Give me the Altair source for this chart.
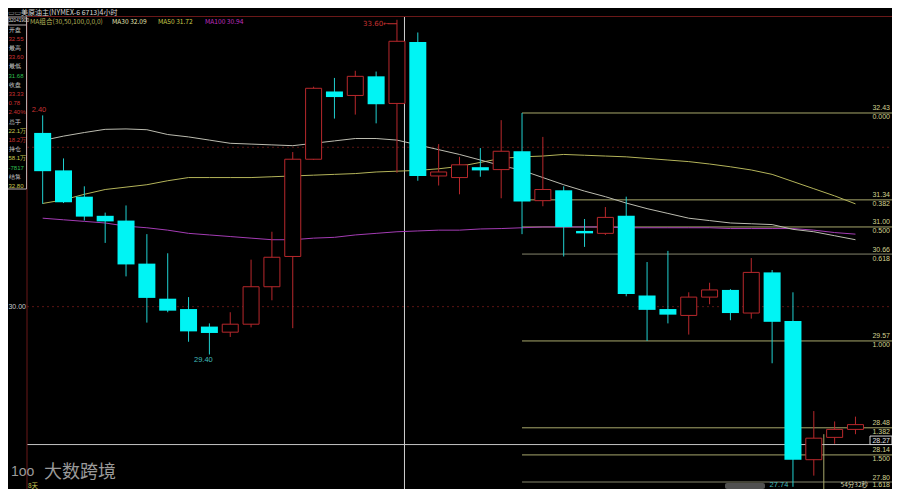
import altair as alt
import pandas as pd

# ---------------- data ----------------
bars = list(range(1, 41))
opens = [32.18, 31.71, 31.38, 31.14, 31.08, 30.54, 30.10, 29.97, 29.75, 29.68,
         29.78, 30.25, 30.63, 31.85, 32.70, 32.65, 32.89, 32.55, 33.32, 31.64,
         31.62, 31.75, 31.72, 31.95, 31.33, 31.46, 30.95, 30.92, 31.14, 30.14,
         29.97, 29.89, 30.12, 30.21, 29.92, 30.43, 29.82, 28.08, 28.36, 28.46]
highs = [32.40, 31.86, 31.51, 31.18, 31.27, 30.91, 30.67, 30.12, 29.79, 29.93,
         30.59, 30.94, 31.94, 32.76, 32.87, 32.96, 32.95, 33.60, 33.44, 32.04,
         31.88, 31.99, 32.34, 32.43, 32.13, 31.51, 31.10, 31.25, 31.38, 30.56,
         30.70, 30.18, 30.30, 30.22, 30.61, 30.46, 30.18, 28.69, 28.56, 28.62]
lows = [31.29, 31.30, 31.08, 30.80, 30.38, 29.80, 29.93, 29.56, 29.40, 29.62,
        29.74, 30.08, 29.73, 31.84, 32.36, 32.41, 32.30, 31.68, 31.58, 31.52,
        31.41, 31.63, 31.36, 30.91, 31.26, 30.63, 30.75, 30.90, 30.13, 29.57,
        29.79, 29.65, 30.03, 29.83, 29.85, 29.29, 27.74, 27.88, 28.28, 28.40]
closes = [31.70, 31.31, 31.13, 31.07, 30.53, 30.11, 29.95, 29.69, 29.67, 29.78,
          30.25, 30.62, 31.85, 32.74, 32.63, 32.89, 32.54, 33.33, 31.64, 31.69,
          31.78, 31.71, 31.95, 31.32, 31.47, 31.00, 30.92, 31.12, 30.16, 29.96,
          29.90, 30.12, 30.21, 29.92, 30.43, 29.81, 28.08, 28.35, 28.46, 28.52]
ma30 = [32.085, 32.14, 32.185, 32.225, 32.23, 32.22, 32.16, 32.13, 32.09, 32.05,
        32.04, 32.03, 32.02, 32.05, 32.08, 32.11, 32.11, 32.09, 32.03, 31.97,
        31.91, 31.84, 31.77, 31.71, 31.62, 31.53, 31.45, 31.38, 31.30, 31.23,
        31.17, 31.11, 31.08, 31.05, 31.04, 31.03, 30.97, 30.94, 30.89, 30.84]
ma50 = [31.295, 31.34, 31.41, 31.47, 31.50, 31.53, 31.58, 31.62, 31.62, 31.62,
        31.62, 31.63, 31.64, 31.65, 31.66, 31.67, 31.69, 31.70, 31.71, 31.73,
        31.76, 31.81, 31.86, 31.88, 31.89, 31.91, 31.90, 31.89, 31.88, 31.86,
        31.84, 31.82, 31.79, 31.755, 31.715, 31.66, 31.57, 31.48, 31.39, 31.29]
ma100 = [31.11, 31.09, 31.07, 31.05, 31.01, 30.99, 30.96, 30.92, 30.90, 30.88,
         30.86, 30.84, 30.84, 30.86, 30.87, 30.90, 30.92, 30.94, 30.95, 30.96,
         30.96, 30.975, 30.98, 30.99, 31.00, 31.00, 31.00, 31.00, 30.99, 30.99,
         30.99, 30.99, 30.99, 30.98, 30.98, 30.98, 30.98, 30.96, 30.93, 30.91]

fib_prices = [32.43, 31.34, 31.00, 30.66, 29.57, 28.48, 28.14, 27.80]
fib_ratios = ["0.000", "0.382", "0.500", "0.618", "1.000", "1.382", "1.500", "1.618"]
fib_start_bar = 24
fib_end_marker_bar = 38.48
fib_end_marker_price = 28.40
grid_prices = [32.00, 30.00]
grid_labels = [30.00]
last_price = 28.27
crosshair_bar = 18.36

header_title = "美原油主(NYMEX-6 6713)4小时"
bar_time = "32041900"
ma_legend = ["MA组合(30,50,100,0,0,0)", "MA30 32.09", "MA50 31.72", "MA100 30.94"]
info_labels = ["开盘", "32.55", "最高", "33.60", "最低", "31.68", "收盘", "33.33", "0.78",
               "2.40%", "总手", "22.1万", "18.2万", "持仓", "58.1万", "-7817", "结算", "32.80"]
countdown = "54分32秒"
period_note = "8天"
watermark = "大数跨境"

# ---------------- styles / layout ----------------
W, H = 884, 481
X0 = -0.42315
X1 = X0 + W / 21.08
Y_TOP = 33.7474
Y_BOT = Y_TOP - H / 79.7
FONT = "Noto Sans CJK SC"
NUMF = "Liberation Sans"
CYAN = "#00f4f4"
RED = "#b8282c"
GRID_RED = "#5c1414"
FIB = "#a8a86c"
FIB_GRAY = "#85856c"
FIB_TXT = "#d2d290"
TXT_W = "#d8d8d8"
TXT_R = "#c83232"
TXT_G = "#2fbf4f"
TXT_Y = "#c8c850"
info_colors = [TXT_W, TXT_R, TXT_W, TXT_R, TXT_W, TXT_G, TXT_W, TXT_R, TXT_R,
               TXT_R, TXT_W, TXT_Y, TXT_R, TXT_W, TXT_Y, TXT_G, TXT_W, TXT_Y]
legend_x = [22, 104, 150, 197]
legend_colors = ["#b4b45a", "#e6e6b4", "#c8c84a", "#c030c0"]

xs = alt.Scale(domain=[X0, X1])
ys = alt.Scale(domain=[Y_BOT, Y_TOP])


def Xf(f):
    return alt.X(f"{f}:Q", scale=xs, axis=None)


def Yf(f):
    return alt.Y(f"{f}:Q", scale=ys, axis=None)


df = pd.DataFrame({"i": bars, "open": opens, "high": highs, "low": lows,
                   "close": closes, "ma30": ma30, "ma50": ma50, "ma100": ma100})
one = pd.DataFrame({"a": [0]})

layers = []

# grid (dotted dark red)
gdf = pd.DataFrame({"p": grid_prices})
layers.append(alt.Chart(gdf).mark_rule(color=GRID_RED, strokeDash=[2, 3], strokeWidth=1).encode(
    y=Yf("p"), x=alt.value(19), x2=alt.value(W)))
layers.append(alt.Chart(pd.DataFrame({"p": grid_labels})).mark_text(
    font=NUMF, fontSize=7, color="#c8c8c8", align="right", baseline="middle").encode(
    y=Yf("p"), x=alt.value(18), text=alt.Text("p:Q", format=".2f")))

# fibonacci levels
fdf = pd.DataFrame({"p": fib_prices, "r": fib_ratios, "s": [fib_start_bar] * len(fib_prices)})
gray_test = "datum.r == '0.618' || datum.r == '1.618'"
layers.append(alt.Chart(fdf).mark_rule(strokeWidth=1).encode(
    y=Yf("p"), x=Xf("s"), x2=alt.value(W),
    color=alt.condition(gray_test, alt.value(FIB_GRAY), alt.value(FIB)),
    strokeWidth=alt.condition(gray_test, alt.value(1.6), alt.value(1))))
layers.append(alt.Chart(pd.DataFrame({"i": [fib_end_marker_bar], "p": [fib_end_marker_price],
                                      "b": [Y_BOT]})).mark_rule(color=FIB, strokeWidth=1).encode(
    x=Xf("i"), y=Yf("p"), y2="b:Q"))

# last price line
layers.append(alt.Chart(pd.DataFrame({"p": [last_price]})).mark_rule(color="#c4c4c4", strokeWidth=1).encode(
    y=Yf("p"), x=alt.value(19), x2=alt.value(W)))

# crosshair
layers.append(alt.Chart(pd.DataFrame({"i": [crosshair_bar]})).mark_rule(color="#d0d0d0", strokeWidth=1).encode(
    x=Xf("i"), y=alt.value(8.5), y2=alt.value(H)))

# moving averages
for col, c in [("ma100", "#a43cb4"), ("ma50", "#b4b45a"), ("ma30", "#bcbcb0")]:
    layers.append(alt.Chart(df).mark_line(color=c, strokeWidth=1).encode(x=Xf("i"), y=Yf(col)))

# wicks
layers.append(alt.Chart(df).mark_rule(strokeWidth=1).encode(
    x=Xf("i"), y=Yf("low"), y2="high:Q",
    color=alt.condition("datum.close >= datum.open", alt.value(RED), alt.value("#20d0d0"))))
# bodies
layers.append(alt.Chart(df).transform_filter("datum.close < datum.open").mark_bar(
    size=17, color=CYAN).encode(x=Xf("i"), y=Yf("open"), y2="close:Q"))
layers.append(alt.Chart(df).transform_filter("datum.close >= datum.open").mark_bar(
    size=16, fill="black", stroke=RED, strokeWidth=1).encode(x=Xf("i"), y=Yf("open"), y2="close:Q"))

# fib labels
layers.append(alt.Chart(fdf).mark_text(font=NUMF, fontSize=7, color=FIB_TXT, align="right",
                                       baseline="middle", dy=-4.5).encode(
    y=Yf("p"), x=alt.value(882), text=alt.Text("p:Q", format=".2f")))
layers.append(alt.Chart(fdf).transform_filter("datum.r != '1.618'").mark_text(
    font=NUMF, fontSize=7, color=FIB_TXT, align="right", baseline="middle", dy=4.5).encode(
    y=Yf("p"), x=alt.value(882), text="r:N"))
layers.append(alt.Chart(fdf).transform_filter("datum.r == '1.618'").mark_text(
    font=NUMF, fontSize=7, color=FIB_TXT, align="right", baseline="middle", dy=2.5).encode(
    y=Yf("p"), x=alt.value(882), text="r:N"))

# last price box
ldf = pd.DataFrame({"p": [last_price]})
layers.append(alt.Chart(ldf).mark_rect(fill="black", stroke="#d8d8d8", strokeWidth=1, y2Offset=-8.5).encode(
    y=Yf("p"), y2="p:Q", x=alt.value(862), x2=alt.value(884)))
layers.append(alt.Chart(ldf).mark_text(font=NUMF, fontSize=7, color="#e0e0e0", align="right",
                                       baseline="middle", dy=-4).encode(
    y=Yf("p"), x=alt.value(882), text=alt.Text("p:Q", format=".2f")))

# high / low annotations
hi_idx = highs.index(max(highs)) + 1
lo_idx = lows.index(min(lows)) + 1
adf = pd.DataFrame({"i": [hi_idx], "i0": [hi_idx - 0.45], "p": [max(highs)]})
adf["t"] = adf["p"].map(lambda v: f"{v:.2f}←")
layers.append(alt.Chart(adf).mark_rule(color=TXT_R, strokeWidth=1, yOffset=4).encode(
    x=Xf("i0"), x2="i:Q", y=Yf("p")))
layers.append(alt.Chart(adf).mark_text(font="DejaVu Sans", fontSize=7, color=TXT_R, align="right",
                                       baseline="middle", dx=-8, dy=4).encode(
    x=Xf("i"), y=Yf("p"), text="t:N"))
low_df = pd.DataFrame({"i": [9, lo_idx], "p": [lows[8], min(lows)]})
layers.append(alt.Chart(low_df.iloc[[0]]).mark_text(font=NUMF, fontSize=7.5, color="#40bcbc", align="center",
                                                    baseline="middle", dx=-6, dy=6).encode(
    x=Xf("i"), y=Yf("p"), text=alt.Text("p:Q", format=".2f")))
layers.append(alt.Chart(low_df.iloc[[1]]).mark_text(font=NUMF, fontSize=7.5, color="#40bcbc", align="center",
                                                    baseline="middle", dx=-14, dy=-2).encode(
    x=Xf("i"), y=Yf("p"), text=alt.Text("p:Q", format=".2f")))
layers.append(alt.Chart(pd.DataFrame({"i": [1], "p": [highs[0]]})).mark_text(
    font=NUMF, fontSize=7.5, color=TXT_R, align="left", baseline="middle", dx=-11, dy=-5).encode(
    x=Xf("i"), y=Yf("p"), text=alt.value(f"{highs[0]:.2f}"[1:])))

# plot borders
layers.append(alt.Chart(one).mark_rule(color="#6a1818", strokeWidth=1).encode(
    x=alt.value(19), x2=alt.value(W), y=alt.value(8.5)))
layers.append(alt.Chart(one).mark_rule(color="#6a1818", strokeWidth=1).encode(
    x=alt.value(19), y=alt.value(8.5), y2=alt.value(H)))

# left info panel
layers.append(alt.Chart(one).mark_rect(fill="black").encode(
    x=alt.value(0), x2=alt.value(18.5), y=alt.value(8.5), y2=alt.value(181)))
layers.append(alt.Chart(one).mark_rule(color="#b4a8a8", strokeWidth=1).encode(
    x=alt.value(18.5), y=alt.value(8.5), y2=alt.value(181)))
layers.append(alt.Chart(one).mark_rule(color="#b4a8a8", strokeWidth=1).encode(
    x=alt.value(0), x2=alt.value(18.5), y=alt.value(181)))
layers.append(alt.Chart(one).mark_rect(fill="black", stroke="#b4a8a8", strokeWidth=1).encode(
    x=alt.value(0), x2=alt.value(18.5), y=alt.value(9), y2=alt.value(17)))
layers.append(alt.Chart(one).mark_text(font=NUMF, fontSize=4.6, color=TXT_W, align="left",
                                       baseline="middle", text=bar_time).encode(
    x=alt.value(0.5), y=alt.value(13)))
idf = pd.DataFrame({"t": info_labels, "k": list(range(len(info_labels))), "c": info_colors})
layers.append(alt.Chart(idf).transform_calculate(py="21.5 + datum.k * 9.2").mark_text(
    font=NUMF, fontSize=6, align="left", baseline="middle").encode(
    x=alt.value(0.5), y=alt.Y("py:Q", scale=None), text="t:N", color=alt.Color("c:N", scale=None)))

# header + MA legend
layers.append(alt.Chart(one).mark_text(font="DejaVu Sans", fontSize=7, color="#9a9a9a", align="left",
                                       baseline="top", text="▭▭").encode(
    x=alt.value(0), y=alt.value(0.5)))
layers.append(alt.Chart(one).mark_text(font=FONT, fontSize=7, color=TXT_W, align="left",
                                       baseline="top", text=header_title).encode(
    x=alt.value(13), y=alt.value(0.5)))
mdf = pd.DataFrame({"t": ma_legend, "px": legend_x, "c": legend_colors})
layers.append(alt.Chart(mdf).mark_text(font=FONT, fontSize=6.6, align="left", baseline="middle").encode(
    x=alt.X("px:Q", scale=None), y=alt.value(14), text="t:N", color=alt.Color("c:N", scale=None)))

# bottom texts
layers.append(alt.Chart(one).mark_text(font=FONT, fontSize=6.5, color=TXT_Y, align="left",
                                       baseline="middle", text=period_note).encode(
    x=alt.value(20), y=alt.value(477.5)))
layers.append(alt.Chart(one).mark_text(font=FONT, fontSize=6.5, color="#d8d8b0", align="right",
                                       baseline="middle", text=countdown).encode(
    x=alt.value(860), y=alt.value(477)))
layers.append(alt.Chart(one).mark_rect(fill="#505050", cornerRadius=2).encode(
    x=alt.value(717), x2=alt.value(757), y=alt.value(475), y2=alt.value(481)))
layers.append(alt.Chart(one).mark_text(font=FONT, fontSize=18, color="#9a9a9a", align="left",
                                       baseline="middle", text=watermark).encode(
    x=alt.value(36), y=alt.value(465)))
layers.append(alt.Chart(one).mark_text(font=NUMF, fontSize=14, color="#9a9a9a", align="left",
                                       baseline="middle", text="1oo").encode(
    x=alt.value(3), y=alt.value(464)))

chart = alt.layer(*layers).properties(
    width=W, height=H, autosize=alt.AutoSizeParams(type="none"), padding=0, background="black"
).configure_view(stroke=None)

chart.save("out.html", embed_options={"renderer": "svg", "actions": False})
